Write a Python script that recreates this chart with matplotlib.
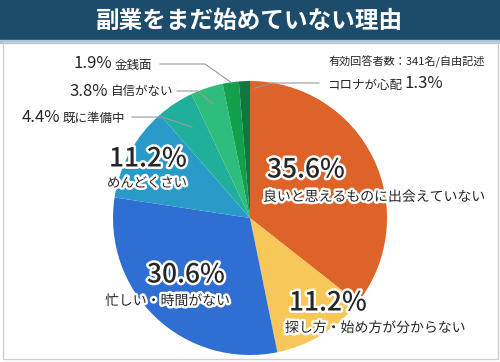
import numpy as np
import matplotlib
matplotlib.use('Agg')
from matplotlib import pyplot as plt
from matplotlib import patheffects as pe
from matplotlib.patches import Rectangle

plt.rcParams['font.family'] = ['Noto Sans CJK JP', 'DejaVu Sans']

title = '副業をまだ始めていない理由'
note = '有効回答者数：341名/自由記述'
reasons = ['良いと思えるものに出会えていない', '探し方・始め方が分からない',
           '忙しい・時間がない', 'めんどくさい', '既に準備中',
           '自信がない', '金銭面', 'コロナが心配']
shares = [35.6, 11.2, 30.6, 11.2, 4.4, 3.8, 1.9, 1.3]
colors = ['#de6329', '#f8c75a', '#2f6fd4', '#2a9bc9', '#20af9b',
          '#2fbd7d', '#13a04c', '#0e7840']

INK = '#262626'
halo = [pe.withStroke(linewidth=3.5, foreground='white')]

fig = plt.figure(figsize=(5, 3.62), dpi=100)
ax = fig.add_axes([0, 0, 1, 1])

# pie in pixel-like coordinates (y axis flipped below)
ax.pie(shares, colors=colors, startangle=-90, counterclock=True,
       center=(250, 218), radius=137,
       wedgeprops=dict(linewidth=0))
ax.set_xlim(0, 500)
ax.set_ylim(362, 0)
ax.set_aspect('equal', adjustable='box')
ax.axis('off')

# header + frame
ax.add_patch(Rectangle((0, 0), 500, 40, color='#1d4b6c', zorder=5))
ax.add_patch(Rectangle((0, 40), 500, 2.5, color='#a9c4d6', zorder=5))
ax.add_patch(Rectangle((2.5, 42), 495, 317, fill=False,
                       edgecolor='#cfcfcf', linewidth=1, zorder=5))
ax.text(250, 21, title, color='white', fontsize=17, fontweight='bold',
        ha='center', va='center', zorder=6)

ax.text(485, 62, note, fontsize=8, color=INK, ha='right', va='center')

# big labels inside the pie: (slice, number x, y, label x, y, label size)
inner = [(0, 267, 170, 263, 197, 10), (1, 289, 303, 285, 328, 10),
         (2, 147, 275, 105, 301, 10), (3, 109, 159, 107, 183, 9.6)]
for i, px, py, lx, ly, fs in inner:
    ax.text(px, py, f'{shares[i]}%', fontsize=19, fontweight='medium',
            color=INK, ha='left', va='center', path_effects=halo)
    ax.text(lx, ly, reasons[i], fontsize=fs, color=INK,
            ha='left', va='center', path_effects=halo)

# small slices with leader lines
lead = '#9a9a9a'
# 金銭面
ax.text(112, 64, f'{shares[6]}%', fontsize=12, color=INK, ha='right', va='center')
ax.text(115, 65, reasons[6], fontsize=9, color=INK, ha='left', va='center')
ax.plot([160, 205, 232], [64, 64, 83], color=lead, lw=0.8)
# 自信がない
ax.text(108, 91, f'{shares[5]}%', fontsize=12, color=INK, ha='right', va='center')
ax.text(111, 92, reasons[5], fontsize=9, color=INK, ha='left', va='center')
ax.plot([177, 198, 213], [91, 91, 104], color=lead, lw=0.8)
# 既に準備中
ax.text(60, 117, f'{shares[4]}%', fontsize=12, color=INK, ha='right', va='center')
ax.text(63, 118, reasons[4], fontsize=9, color=INK, ha='left', va='center')
ax.plot([132, 162, 192], [117, 117, 127], color=lead, lw=0.8)
# コロナが心配
ax.text(402, 85, reasons[7], fontsize=9, color=INK, ha='right', va='center')
ax.text(405, 84, f'{shares[7]}%', fontsize=12, color=INK, ha='left', va='center')
ax.plot([319, 272, 255], [83, 83, 88], color=lead, lw=0.8)

fig.savefig('out.png', dpi=100)
